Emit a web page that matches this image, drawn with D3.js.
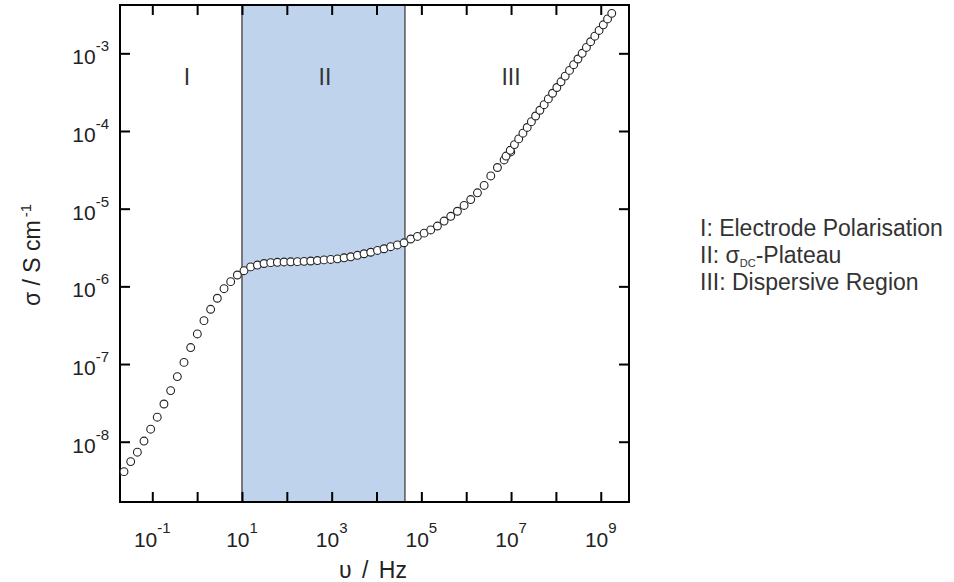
<!DOCTYPE html>
<html>
<head>
<meta charset="utf-8">
<script src="https://cdn.jsdelivr.net/npm/d3@7"></script>
<style>
  body { margin: 0; background: #fff; }
  text { font-family: "Liberation Sans", Arial, sans-serif; fill: #222; }
</style>
</head>
<body>
<div id="chart"></div>
<script>
// low frequency sweep (Hz) and conductivity (S/cm)
var freqLow = [0.0234, 0.0330, 0.0465, 0.0653, 0.0920, 0.129, 0.182, 0.257, 0.362, 0.509,
  0.718, 1.01, 1.42, 2.00, 2.82, 3.98, 5.60, 7.89, 11.1, 15.6,
  22.0, 31.0, 43.7, 61.5, 86.7, 122, 172, 242, 341, 480,
  676, 953, 1340, 1890, 2660, 3750, 5270, 7430, 1.05e4, 1.47e4,
  2.07e4, 2.92e4, 4.11e4, 5.79e4, 8.17e4, 1.15e5, 1.62e5, 2.28e5, 3.21e5, 4.52e5,
  6.37e5, 8.97e5, 1.26e6, 1.78e6, 2.51e6, 3.53e6, 4.97e6, 7.00e6, 9.86e6];
var sigmaLow = [4.12e-9, 5.55e-9, 7.33e-9, 1.02e-8, 1.45e-8, 2.07e-8, 3.06e-8, 4.55e-8, 6.89e-8, 1.05e-7,
  1.63e-7, 2.44e-7, 3.62e-7, 5.07e-7, 7.03e-7, 9.33e-7, 1.15e-6, 1.40e-6, 1.59e-6, 1.78e-6,
  1.88e-6, 1.97e-6, 2.02e-6, 2.04e-6, 2.06e-6, 2.07e-6, 2.08e-6, 2.10e-6, 2.12e-6, 2.15e-6,
  2.19e-6, 2.22e-6, 2.26e-6, 2.33e-6, 2.40e-6, 2.51e-6, 2.63e-6, 2.75e-6, 2.90e-6, 3.05e-6,
  3.24e-6, 3.41e-6, 3.64e-6, 4.07e-6, 4.39e-6, 4.84e-6, 5.32e-6, 5.98e-6, 6.93e-6, 7.98e-6,
  9.27e-6, 1.10e-5, 1.31e-5, 1.60e-5, 1.99e-5, 2.64e-5, 3.39e-5, 4.24e-5, 5.37e-5];

// high frequency sweep
var freqHigh = [7.73e6, 9.59e6, 1.19e7, 1.48e7, 1.84e7, 2.29e7, 2.84e7, 3.53e7, 4.39e7, 5.46e7,
  6.78e7, 8.41e7, 1.05e8, 1.30e8, 1.61e8, 2.01e8, 2.49e8, 3.10e8, 3.85e8, 4.79e8,
  5.94e8, 7.38e8, 9.18e8, 1.14e9, 1.42e9, 1.76e9];
var sigmaHigh = [4.76e-5, 5.64e-5, 6.68e-5, 7.91e-5, 9.37e-5, 1.11e-4, 1.32e-4, 1.56e-4, 1.85e-4, 2.18e-4,
  2.59e-4, 3.06e-4, 3.63e-4, 4.30e-4, 5.09e-4, 6.03e-4, 7.14e-4, 8.45e-4, 1.00e-3, 1.19e-3,
  1.41e-3, 1.66e-3, 1.97e-3, 2.33e-3, 2.77e-3, 3.27e-3];

var xTickExp = [-1, 0, 1, 2, 3, 4, 5, 6, 7, 8, 9];
var xLabelExp = [-1, 1, 3, 5, 7, 9];
var yTickExp = [-8, -7, -6, -5, -4, -3];

var plateauRange = [10, 4.3e4];
var regionNames = ["I", "II", "III"];
var regionFreq = [0.59, 710, 1.0e7];
var legendLines = ["I: Electrode Polarisation", "II: ", "III: Dispersive Region"];

var width = 954, height = 582;
var plotL = 120, plotR = 629, plotT = 5, plotB = 502;

var svg = d3.select("#chart").append("svg")
  .attr("width", width)
  .attr("height", height);

var x = d3.scaleLog().domain([Math.pow(10, -1.72), Math.pow(10, 9.63)]).range([plotL, plotR]);
var y = d3.scaleLog().domain([Math.pow(10, -8.776), Math.pow(10, -2.378)]).range([plotB, plotT]);

// shaded sigma_DC plateau
svg.append("rect")
  .attr("x", x(plateauRange[0]))
  .attr("y", plotT)
  .attr("width", x(plateauRange[1]) - x(plateauRange[0]))
  .attr("height", plotB - plotT)
  .attr("fill", "#bfd3ec")
  .attr("stroke", "#555")
  .attr("stroke-width", 1.5);

// ticks on all four sides, pointing inwards
var xTicks = xTickExp.map(function (e) { return Math.pow(10, e); });
var yTicks = yTickExp.map(function (e) { return Math.pow(10, e); });

function styleAxis(g) {
  g.select(".domain").remove();
  g.selectAll(".tick line").attr("stroke", "#000").attr("stroke-width", 2);
  g.selectAll(".tick text").remove();
}

svg.append("g").attr("transform", "translate(0," + plotB + ")")
  .call(d3.axisBottom(x).tickValues(xTicks).tickSizeInner(-10).tickSizeOuter(0))
  .call(styleAxis);
svg.append("g").attr("transform", "translate(0," + plotT + ")")
  .call(d3.axisTop(x).tickValues(xTicks).tickSizeInner(-10).tickSizeOuter(0))
  .call(styleAxis);
svg.append("g").attr("transform", "translate(" + plotL + ",0)")
  .call(d3.axisLeft(y).tickValues(yTicks).tickSizeInner(-10).tickSizeOuter(0))
  .call(styleAxis);
svg.append("g").attr("transform", "translate(" + plotR + ",0)")
  .call(d3.axisRight(y).tickValues(yTicks).tickSizeInner(-10).tickSizeOuter(0))
  .call(styleAxis);

// frame
svg.append("rect")
  .attr("x", plotL).attr("y", plotT)
  .attr("width", plotR - plotL).attr("height", plotB - plotT)
  .attr("fill", "none")
  .attr("stroke", "#000")
  .attr("stroke-width", 2);

// tick labels 10^n
var xl = svg.selectAll(".xlab")
  .data(xLabelExp)
  .enter()
  .append("text")
    .attr("x", function (d) { return x(Math.pow(10, d)); })
    .attr("y", 547)
    .attr("text-anchor", "middle")
    .style("font-size", "21px");
xl.append("tspan").text("10");
xl.append("tspan").attr("dy", -14).style("font-size", "15px").text(function (d) { return d; });

var yl = svg.selectAll(".ylab")
  .data(yTickExp)
  .enter()
  .append("text")
    .attr("x", 109)
    .attr("y", function (d) { return y(Math.pow(10, d)) + 11; })
    .attr("text-anchor", "end")
    .style("font-size", "21px");
yl.append("tspan").text("10");
yl.append("tspan").attr("dy", -13).style("font-size", "15px").text(function (d) { return d; });

// region labels
svg.selectAll(".region")
  .data(regionNames)
  .enter()
  .append("text")
    .attr("x", function (d, i) { return x(regionFreq[i]); })
    .attr("y", 85)
    .attr("text-anchor", "middle")
    .style("font-size", "23px")
    .style("fill", "#333")
    .text(function (d) { return d; });

// data points
function drawPoints(fs, ss) {
  svg.append("g").selectAll("circle")
    .data(fs)
    .enter()
    .append("circle")
      .attr("cx", function (d) { return x(d); })
      .attr("cy", function (d, i) { return y(ss[i]); })
      .attr("r", 3.9)
      .attr("fill", "#fff")
      .attr("stroke", "#222")
      .attr("stroke-width", 1.1);
}
drawPoints(freqLow, sigmaLow);
drawPoints(freqHigh, sigmaHigh);

// axis titles
var yt = svg.append("text")
  .attr("transform", "translate(40,255) rotate(-90)")
  .attr("text-anchor", "middle")
  .style("font-size", "23px");
yt.append("tspan").text("\u03c3 / S cm");
yt.append("tspan").attr("dy", -9).attr("dx", 3).style("font-size", "15px").text("-1");

svg.append("text")
  .attr("x", 373)
  .attr("y", 578)
  .attr("text-anchor", "middle")
  .style("font-size", "23px")
  .style("word-spacing", "4px")
  .text("\u03c5 / Hz");

// legend
var lg = svg.selectAll(".legend")
  .data(legendLines)
  .enter()
  .append("text")
    .attr("x", 700)
    .attr("y", function (d, i) { return 236 + i * 27; })
    .style("font-size", "23px")
    .style("fill", "#333")
    .text(function (d) { return d; });

var l2 = d3.select(lg.nodes()[1]);
l2.append("tspan").text("\u03c3");
l2.append("tspan").attr("dy", 4).style("font-size", "11px").text("DC");
l2.append("tspan").attr("dy", -4).text("-Plateau");
</script>
</body>
</html>
